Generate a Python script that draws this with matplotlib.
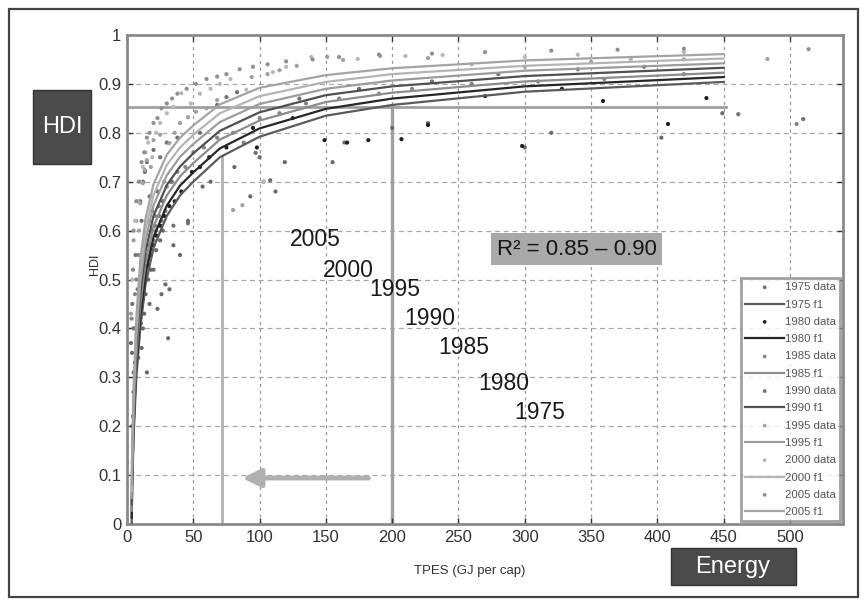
import matplotlib
matplotlib.use("Agg")
import matplotlib.pyplot as plt
from matplotlib.patches import Rectangle
from matplotlib.ticker import FuncFormatter

plt.rcParams['font.family'] = ['Liberation Sans', 'DejaVu Sans']

years = ['1975', '1980', '1985', '1990', '1995', '2000', '2005']

# fitted curves
fit_x = [3.5, 4, 5, 7, 10, 14, 20, 30, 40, 50, 70, 100, 150, 200, 300, 450]
fit_1975 = [0.0, 0.08, 0.18, 0.30, 0.40, 0.49, 0.565, 0.63, 0.672, 0.70, 0.75, 0.792, 0.835, 0.857, 0.884, 0.904]
fit_1980 = [0.013, 0.095, 0.197, 0.32, 0.423, 0.512, 0.587, 0.651, 0.692, 0.719, 0.768, 0.809, 0.849, 0.870, 0.895, 0.914]
fit_1985 = [0.027, 0.11, 0.213, 0.34, 0.447, 0.535, 0.608, 0.672, 0.711, 0.738, 0.786, 0.825, 0.863, 0.882, 0.905, 0.923]
fit_1990 = [0.04, 0.125, 0.23, 0.36, 0.47, 0.558, 0.63, 0.693, 0.731, 0.758, 0.804, 0.842, 0.877, 0.895, 0.916, 0.933]
fit_1995 = [0.053, 0.14, 0.247, 0.38, 0.493, 0.58, 0.652, 0.713, 0.751, 0.777, 0.822, 0.859, 0.890, 0.907, 0.927, 0.942]
fit_2000 = [0.067, 0.155, 0.263, 0.40, 0.517, 0.603, 0.673, 0.734, 0.770, 0.796, 0.840, 0.875, 0.904, 0.920, 0.937, 0.952]
fit_2005 = [0.08, 0.17, 0.28, 0.42, 0.54, 0.625, 0.695, 0.755, 0.79, 0.815, 0.858, 0.892, 0.918, 0.932, 0.948, 0.961]

# scatter data
d1975_x = [3, 3.8, 5, 6, 7.5, 9, 11, 12, 14, 15, 17, 20, 23, 26, 29, 31, 32, 35, 40, 46, 57, 63, 81, 93, 103, 112, 119, 155, 164, 200, 227, 300, 320, 403, 449,
           4.5, 6.5, 8.5, 10.5, 13, 16, 18, 22, 25, 27]
d1975_y = [0.37, 0.35, 0.31, 0.40, 0.39, 0.44, 0.36, 0.40, 0.47, 0.31, 0.45, 0.52, 0.44, 0.47, 0.49, 0.38, 0.48, 0.57, 0.55, 0.62, 0.69, 0.70, 0.73, 0.67, 0.70, 0.68, 0.74, 0.74, 0.78, 0.81, 0.82, 0.77, 0.80, 0.79, 0.84,
           0.22, 0.30, 0.34, 0.41, 0.43, 0.50, 0.52, 0.56, 0.58, 0.60]
d1980_x = [4, 5, 6, 8, 10, 12, 14, 16, 18, 20, 22, 25, 28, 32, 36, 41, 49, 55, 62, 75, 95, 98, 125, 149, 166, 182, 207, 227, 270, 298, 328, 359, 408, 437]
d1980_y = [0.20, 0.27, 0.33, 0.38, 0.43, 0.46, 0.50, 0.53, 0.55, 0.57, 0.59, 0.61, 0.63, 0.65, 0.66, 0.68, 0.72, 0.73, 0.75, 0.77, 0.81, 0.77, 0.83, 0.785, 0.78, 0.785, 0.787, 0.816, 0.875, 0.773, 0.89, 0.865, 0.818, 0.871]
d1985_x = [3.5, 4.5, 6, 7, 9, 11, 13, 15, 17, 19, 21, 24, 27, 30, 34, 38, 44, 50, 58, 68, 80, 88, 100, 115, 135, 160, 190, 215, 260, 310, 360, 420, 505,
           8, 10, 12, 14, 16, 18, 20, 22, 26, 29]
d1985_y = [0.42, 0.52, 0.47, 0.50, 0.55, 0.52, 0.58, 0.57, 0.62, 0.60, 0.63, 0.65, 0.66, 0.69, 0.70, 0.72, 0.73, 0.76, 0.77, 0.79, 0.80, 0.78, 0.83, 0.84, 0.86, 0.87, 0.88, 0.89, 0.90, 0.905, 0.91, 0.92, 0.818,
           0.40, 0.45, 0.49, 0.51, 0.54, 0.56, 0.58, 0.60, 0.62, 0.64]
d1990_x = [4, 5, 6.5, 8, 10, 11, 12, 13.5, 15, 17, 19, 20, 23, 25, 30, 35, 38, 46, 55, 68, 75, 83, 97, 100, 108, 130, 175, 230, 280, 340, 390, 461, 510,
           7, 9, 11, 13, 15, 17, 21, 24, 27, 33]
d1990_y = [0.45, 0.40, 0.55, 0.48, 0.66, 0.62, 0.70, 0.72, 0.74, 0.67, 0.64, 0.765, 0.68, 0.75, 0.78, 0.61, 0.79, 0.615, 0.80, 0.857, 0.873, 0.883, 0.759, 0.75, 0.703, 0.87, 0.89, 0.905, 0.92, 0.93, 0.935, 0.838, 0.828,
           0.36, 0.42, 0.47, 0.50, 0.55, 0.57, 0.61, 0.63, 0.66, 0.70]
d1995_x = [3, 5, 7, 9, 10, 12, 13.5, 15, 18, 20, 25, 28, 32, 36, 40, 46, 52, 60, 68, 80, 87, 94, 106, 115, 128, 151, 163, 191, 227, 300, 350, 420, 483]
d1995_y = [0.43, 0.58, 0.62, 0.60, 0.656, 0.697, 0.724, 0.744, 0.73, 0.785, 0.796, 0.70, 0.779, 0.80, 0.82, 0.832, 0.843, 0.85, 0.867, 0.642, 0.652, 0.914, 0.92, 0.928, 0.937, 0.955, 0.949, 0.957, 0.953, 0.935, 0.945, 0.95, 0.951]
d2000_x = [4, 6, 8, 10, 12, 14, 16, 19, 22, 25, 30, 35, 41, 48, 55, 63, 70, 78, 90, 103, 110, 120, 139, 174, 210, 238, 260, 300, 340, 380, 420]
d2000_y = [0.50, 0.62, 0.66, 0.70, 0.73, 0.76, 0.78, 0.75, 0.80, 0.82, 0.84, 0.853, 0.881, 0.86, 0.88, 0.89, 0.90, 0.91, 0.888, 0.70, 0.924, 0.935, 0.955, 0.951, 0.957, 0.959, 0.94, 0.955, 0.96, 0.95, 0.965]
d2005_x = [5, 7, 9, 11, 13, 15, 17, 20, 23, 26, 30, 34, 38, 45, 52, 60, 68, 75, 85, 95, 106, 120, 140, 160, 190, 230, 270, 320, 370, 420, 514]
d2005_y = [0.60, 0.66, 0.70, 0.74, 0.76, 0.79, 0.80, 0.82, 0.83, 0.85, 0.86, 0.87, 0.88, 0.89, 0.90, 0.91, 0.915, 0.92, 0.93, 0.935, 0.94, 0.946, 0.95, 0.955, 0.96, 0.962, 0.965, 0.968, 0.97, 0.972, 0.971]

# year labels on the chart
label_x = [142, 167, 202, 228, 254, 284, 311]
label_y = [0.581, 0.519, 0.479, 0.421, 0.36, 0.288, 0.229]
label_text = ['2005', '2000', '1995', '1990', '1985', '1980', '1975']

x_ticks = [0, 50, 100, 150, 200, 250, 300, 350, 400, 450, 500]
y_ticks = [0, 0.1, 0.2, 0.3, 0.4, 0.5, 0.6, 0.7, 0.8, 0.9, 1.0]

fits = [fit_1975, fit_1980, fit_1985, fit_1990, fit_1995, fit_2000, fit_2005]
data_x = [d1975_x, d1980_x, d1985_x, d1990_x, d1995_x, d2000_x, d2005_x]
data_y = [d1975_y, d1980_y, d1985_y, d1990_y, d1995_y, d2000_y, d2005_y]
dot_colors = ['#6a6a6a', '#202020', '#858585', '#707070', '#a0a0a0', '#b8b8b8', '#909090']
line_colors = ['#5a5a5a', '#262626', '#8c8c8c', '#505050', '#9c9c9c', '#b4b4b4', '#a4a4a4']

fig = plt.figure(figsize=(8.65, 6.05), dpi=100)
fig.patch.set_facecolor('white')

ax = fig.add_axes([127/865, 1 - 524/605, (843 - 127)/865, (524 - 35)/605])
ax.set_xlim(0, 540)
ax.set_ylim(0, 1)

# grid
for xt in x_ticks[1:]:
    ax.axvline(xt, color='#9a9a9a', lw=0.9, ls=(0, (2.5, 3)), zorder=0)
for yt in y_ticks[1:-1]:
    ax.axhline(yt, color='#a8a8a8', lw=0.9, ls=(0, (4, 3)), zorder=0)

# reference lines
ax.plot([0, 452], [0.853, 0.853], color='#a0a0a0', lw=2.0, zorder=1)
ax.plot([72, 72], [0, 0.75], color='#b0b0b0', lw=2.0, zorder=1)
ax.plot([200, 200], [0, 0.853], color='#a0a0a0', lw=2.4, zorder=1)
ax.annotate('', xy=(87, 0.094), xytext=(182, 0.094),
            arrowprops=dict(arrowstyle='-|>,head_length=1.1,head_width=0.55',
                            color='#b0b0b0', lw=3.5, shrinkA=0, shrinkB=0), zorder=2)

handles = []
for i, yr in enumerate(years):
    h1 = ax.scatter(data_x[i], data_y[i], s=9, color=dot_colors[i], edgecolors='none',
                    zorder=3, label=f'{yr} data')
    h2, = ax.plot(fit_x, fits[i], color=line_colors[i], lw=1.6, zorder=4, label=f'{yr} f1')
    handles += [h1, h2]

for t, xx, yy in zip(label_text, label_x, label_y):
    ax.text(xx, yy, t, fontsize=16.5, color='#1a1a1a', ha='center', va='center', zorder=6)

ax.text(339, 0.562, 'R² = 0.85 – 0.90', fontsize=16, color='#151515', ha='center', va='center',
        bbox=dict(boxstyle='square,pad=0.25', facecolor='#a9a9a9', edgecolor='none'), zorder=6)

leg = ax.legend(handles=handles, loc='lower right', bbox_to_anchor=(0.996, 0.006),
                borderaxespad=0, fontsize=8.2, frameon=True, fancybox=False,
                handlelength=3.4, handletextpad=0.1, labelspacing=0.64, borderpad=0.35,
                markerscale=0.9, scatterpoints=1)
leg.get_frame().set_edgecolor('#8a8a8a')
leg.get_frame().set_linewidth(2)
for t in leg.get_texts():
    t.set_color('#555555')

ax.set_xticks(x_ticks)
ax.set_yticks(y_ticks)
ax.yaxis.set_major_formatter(FuncFormatter(lambda v, p: f'{v:g}'))
ax.tick_params(direction='in', length=4, width=1, top=True, right=True, labelsize=12,
               colors='#333333', pad=4)
for s in ax.spines.values():
    s.set_color('#8a8a8a')
    s.set_linewidth(2)

ax.set_xlabel('TPES (GJ per cap)', fontsize=9.5, color='#333333')
ax.xaxis.set_label_coords((470 - 127) / (843 - 127), -(565 - 524) / 489)
ax.set_ylabel('HDI', fontsize=9, color='#333333')
ax.yaxis.set_label_coords(-(127 - 101) / (843 - 127), (524 - 264) / 489)

# label boxes
fig.patches.append(Rectangle((33/865, 1 - 164/605), 58/865, 74/605, transform=fig.transFigure,
                             facecolor='#4b4b4b', edgecolor='#333333', lw=1))
fig.text(62/865, 1 - 127/605, 'HDI', color='white', fontsize=17, ha='center', va='center')
fig.patches.append(Rectangle((671/865, 1 - 585/605), 125/865, 37/605, transform=fig.transFigure,
                             facecolor='#4b4b4b', edgecolor='#333333', lw=1))
fig.text(733/865, 1 - 567/605, 'Energy', color='white', fontsize=17, ha='center', va='center')

# outer frame
fig.patches.append(Rectangle((9/865, 1 - 597/605), 849/865, 588/605, transform=fig.transFigure,
                             facecolor='none', edgecolor='#444444', lw=1.6))

fig.savefig('out.png', dpi=100)
